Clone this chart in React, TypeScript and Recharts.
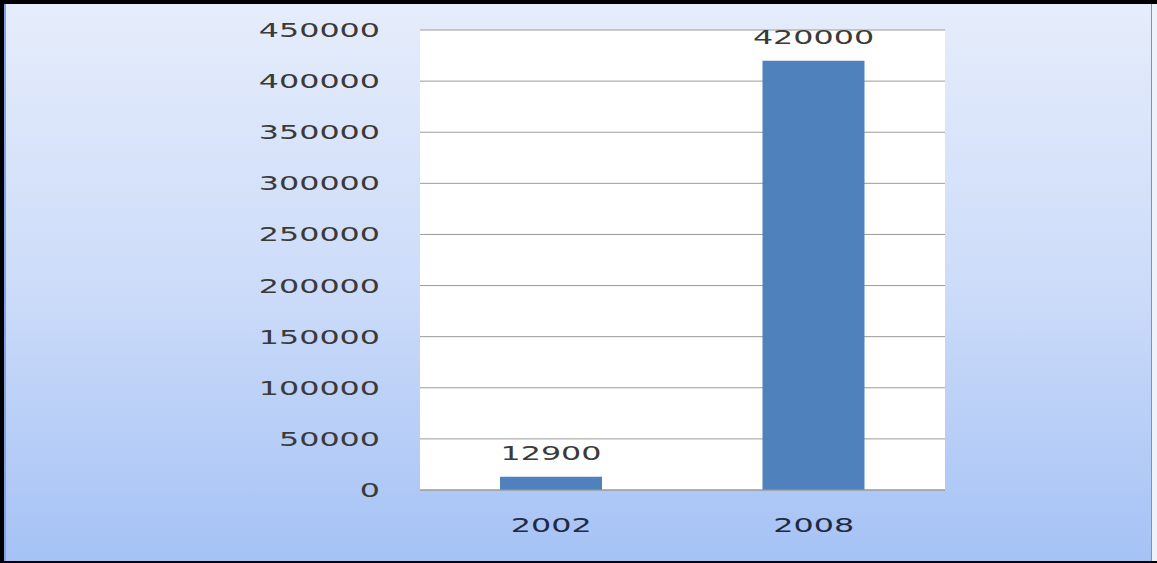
import { BarChart, Bar, XAxis, YAxis, CartesianGrid, LabelList } from 'recharts'

const years = ['2002', '2008']
const values = [12900, 420000]
const yTicks = [0, 50000, 100000, 150000, 200000, 250000, 300000, 350000, 400000, 450000]

const data = years.map((year, i) => ({ year, value: values[i] }))

const CHAR_W = 20.2
const FONT = 'DejaVu Sans, Verdana, sans-serif'

function YTick({ y, payload }: any) {
  const s = String(payload.value)
  return (
    <text x={380} y={y + 7} textAnchor="end" fontSize={19} fontFamily={FONT} fill="#3a3a3a"
      textLength={s.length * CHAR_W} lengthAdjust="spacingAndGlyphs">
      {s}
    </text>
  )
}

function XTick({ x, y, payload }: any) {
  const s = String(payload.value)
  return (
    <text x={x} y={y + 34} textAnchor="middle" fontSize={19} fontFamily={FONT} fill="#1f2a44"
      textLength={s.length * CHAR_W} lengthAdjust="spacingAndGlyphs">
      {s}
    </text>
  )
}

function ValueLabel({ x, y, width, value }: any) {
  const s = String(value)
  return (
    <text x={x + width / 2} y={y - 17} textAnchor="middle" fontSize={19} fontFamily={FONT} fill="#3a3a3a"
      textLength={s.length * CHAR_W} lengthAdjust="spacingAndGlyphs">
      {s}
    </text>
  )
}

export default function App() {
  return (
    <div
      style={{
        position: 'absolute', left: 0, top: 0, width: 1157, height: 563,
        background: 'linear-gradient(to bottom, #e6edfb 0%, #cddcf9 50%, #a5c2f5 100%)',
      }}
    >
      <BarChart
        width={1157}
        height={563}
        data={data}
        margin={{ top: 30, right: 212, left: 0, bottom: 33 }}
        barSize={102}
        style={{ position: 'absolute', left: 0, top: 0 }}
      >
        <CartesianGrid vertical={false} stroke="#9a9a9a" fill="#ffffff" />
        <XAxis dataKey="year" height={40} tick={<XTick />} tickLine={false} axisLine={{ stroke: '#9a9a9a' }} />
        <YAxis
          width={420}
          domain={[0, 450000]}
          ticks={yTicks}
          tick={<YTick />}
          tickLine={false}
          axisLine={false}
        />
        <Bar dataKey="value" fill="#4f81bd" isAnimationActive={false}>
          <LabelList dataKey="value" content={<ValueLabel />} />
        </Bar>
      </BarChart>
      <div style={{ position: 'absolute', left: 0, top: 0, width: 1157, height: 4, background: '#000' }} />
      <div style={{ position: 'absolute', left: 0, top: 0, width: 4, height: 563, background: '#000' }} />
      <div style={{ position: 'absolute', left: 4, top: 4, width: 2, height: 557, background: '#7fa3e6' }} />
      <div style={{ position: 'absolute', left: 0, top: 561, width: 1157, height: 2, background: '#000' }} />
      <div style={{ position: 'absolute', left: 1151, top: 4, width: 1, height: 557, background: '#6f93d6' }} />
      <div style={{ position: 'absolute', left: 1152, top: 4, width: 5, height: 557, background: '#eef2fb' }} />
    </div>
  )
}
